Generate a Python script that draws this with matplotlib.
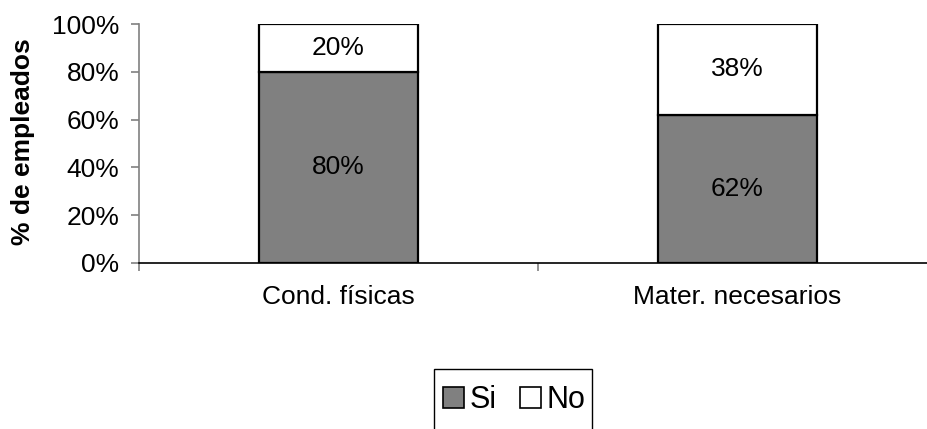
import matplotlib.pyplot as plt
import matplotlib.patches as mpatches
import numpy as np

# datos
categorias = ['Cond. físicas', 'Mater. necesarios']
si = [80, 62]
no = [20, 38]

plt.rcParams['font.family'] = ['Liberation Sans', 'DejaVu Sans']
fs = 19

fig = plt.figure(figsize=(9.28, 4.29), dpi=100)
ax = fig.add_axes([139/928, 1-263/429, 798/928, 239/429])

x = np.arange(len(categorias))
ancho = 0.4
ax.bar(x, si, ancho, color='#808080', edgecolor='black', linewidth=1.6, label='Si', zorder=3)
ax.bar(x, no, ancho, bottom=si, color='white', edgecolor='black', linewidth=1.6, label='No', zorder=3)

for i in range(len(categorias)):
    ax.text(x[i], si[i]/2, f'{si[i]}%', ha='center', va='center', fontsize=fs)
    ax.text(x[i], si[i] + no[i]/2, f'{no[i]}%', ha='center', va='center', fontsize=fs)

ax.set_xlim(-0.5, 1.5)
ax.set_ylim(0, 100)
ax.set_yticks(np.arange(0, 101, 20))
ax.set_yticklabels([f'{v}%' for v in range(0, 101, 20)], fontsize=fs)
ax.set_xticks(x)
ax.set_xticklabels(categorias, fontsize=fs)
ax.tick_params(axis='x', length=0, pad=16)
ax.set_xticks([-0.5, 0.5, 1.5], minor=True)
ax.tick_params(axis='x', which='minor', length=6, color='#808080', width=1.2, direction='out')
ax.tick_params(axis='y', length=6, color='#808080', width=1.2, pad=8)

for s in ['top', 'right']:
    ax.spines[s].set_visible(False)
ax.spines['left'].set_color('#808080')
ax.spines['left'].set_linewidth(1.2)
ax.spines['bottom'].set_color('black')
ax.spines['bottom'].set_linewidth(1.2)

fig.text(23/928, 1-142/429, '% de empleados', rotation=90, ha='center', va='center',
         fontsize=fs, fontweight='bold')

# leyenda sin marco, el recuadro se dibuja aparte (queda cortado abajo)
leg = fig.legend(loc='center left', bbox_to_anchor=(443/928, 1-400/429), ncol=2,
                 fontsize=22, frameon=False,
                 handlelength=0.7, handleheight=0.7, handletextpad=0.18,
                 columnspacing=0.75, borderpad=0, borderaxespad=0)
for h in leg.legend_handles:
    h.set_linewidth(1.2)
caja = mpatches.Rectangle((434/928, 1-440/429), 158/928, 71/429, transform=fig.transFigure,
                          fill=False, edgecolor='black', linewidth=1.0)
fig.add_artist(caja)

fig.savefig('out.png', dpi=100)
